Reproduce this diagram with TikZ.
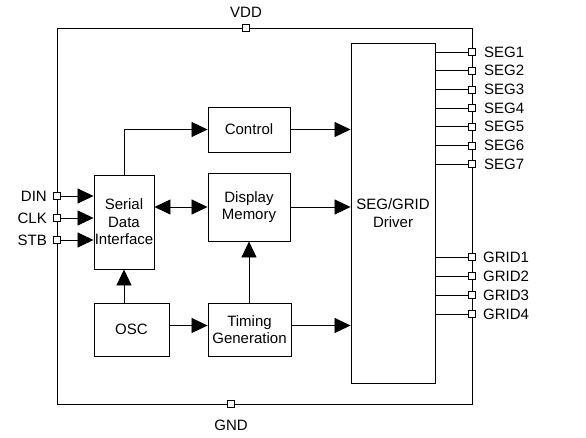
\documentclass[tikz,border=0pt]{standalone}
\usepackage{fontspec}
\setmainfont{Liberation Sans}
\usetikzlibrary{arrows.meta}
\begin{document}
\begin{tikzpicture}[x=1pt,y=-1pt,
  blk/.style={draw,line width=0.9pt,align=center,inner sep=0pt,font=\fontsize{15}{17.5}\selectfont},
  arr/.style={line width=0.8pt,-{Triangle[length=16pt,width=15pt]}},
  darr/.style={line width=0.8pt,{Triangle[length=16pt,width=15pt]}-{Triangle[length=16pt,width=15pt]}},
  ln/.style={line width=0.8pt},
  pinsq/.style={draw,fill=white,line width=0.7pt,minimum size=7pt,inner sep=0pt},
  lbl/.style={inner sep=0pt,font=\fontsize{15}{17.5}\selectfont}]
\useasboundingbox (0,0) rectangle (586,438);
% outer boundary
\coordinate (otl) at (57,28);
\coordinate (obr) at (472,404);
\draw[line width=0.9pt] (otl) rectangle (obr);
% blocks
\node[blk,minimum width=60pt,minimum height=94pt] (ser) at (124,222) {Serial\\Data\\Interface};
\node[blk,minimum width=82pt,minimum height=45pt] (ctrl) at (249,129.5) {Control};
\node[blk,minimum width=82pt,minimum height=68pt] (dm) at (249,207) {Display\\Memory};
\node[blk,minimum width=75pt,minimum height=53pt] (osc) at (131.5,329.5) {OSC};
\node[blk,minimum width=83pt,minimum height=53pt] (tim) at (249.5,329.5) {Timing\\Generation};
\node[blk,minimum width=84pt,minimum height=340pt] (drv) at (393,213) {SEG/GRID\\Driver};
% internal connections
\draw[arr] (ser.north) -- (ser.north |- ctrl.west) -- (ctrl.west);
\draw[arr] (ctrl.east) -- (ctrl.east -| drv.west);
\draw[darr] (ser.east |- dm.west) -- (dm.west);
\draw[arr] (dm.east) -- (dm.east -| drv.west);
\draw[arr] (ser.south |- osc.north) -- (ser.south);
\draw[arr] (dm.south |- tim.north) -- (dm.south);
\coordinate (oscr) at ([yshift=4pt]osc.east);
\draw[arr] (oscr) -- (oscr -| tim.west);
\coordinate (timr) at ([yshift=4pt]tim.east);
\draw[arr] (timr) -- (timr -| drv.west);
% VDD / GND
\node[pinsq] (vdd) at (246,28) {};
\node[lbl] (vddl) at (246,12) {VDD};
\node[pinsq] (gnd) at (231,404) {};
\node[lbl] (gndl) at (231,425) {GND};
% input pins
\foreach \nm/\yy in {DIN/196,CLK/218,STB/240}{
  \node[pinsq] (p\nm) at (57,\yy) {};
  \node[lbl,anchor=east] (l\nm) at (47,\yy) {\nm};
  \draw[arr] (p\nm.east) -- (p\nm.east -| ser.west);
}
% SEG pins
\foreach \i/\yy in {1/52,2/70.7,3/89.4,4/108.1,5/126.8,6/145.5,7/164.2}{
  \coordinate (sd\i) at (435,\yy);
  \node[pinsq] (s\i) at (472,\yy) {};
  \draw[ln] (sd\i) -- (s\i.west);
  \node[lbl,anchor=west] (sl\i) at (484,\yy) {SEG\i};
}
% GRID pins
\foreach \i/\yy in {1/257,2/276,3/295,4/314}{
  \coordinate (gd\i) at (435,\yy);
  \node[pinsq] (g\i) at (472,\yy) {};
  \draw[ln] (gd\i) -- (g\i.west);
  \node[lbl,anchor=west] (gl\i) at (483,\yy) {GRID\i};
}
\end{tikzpicture}
\end{document}
